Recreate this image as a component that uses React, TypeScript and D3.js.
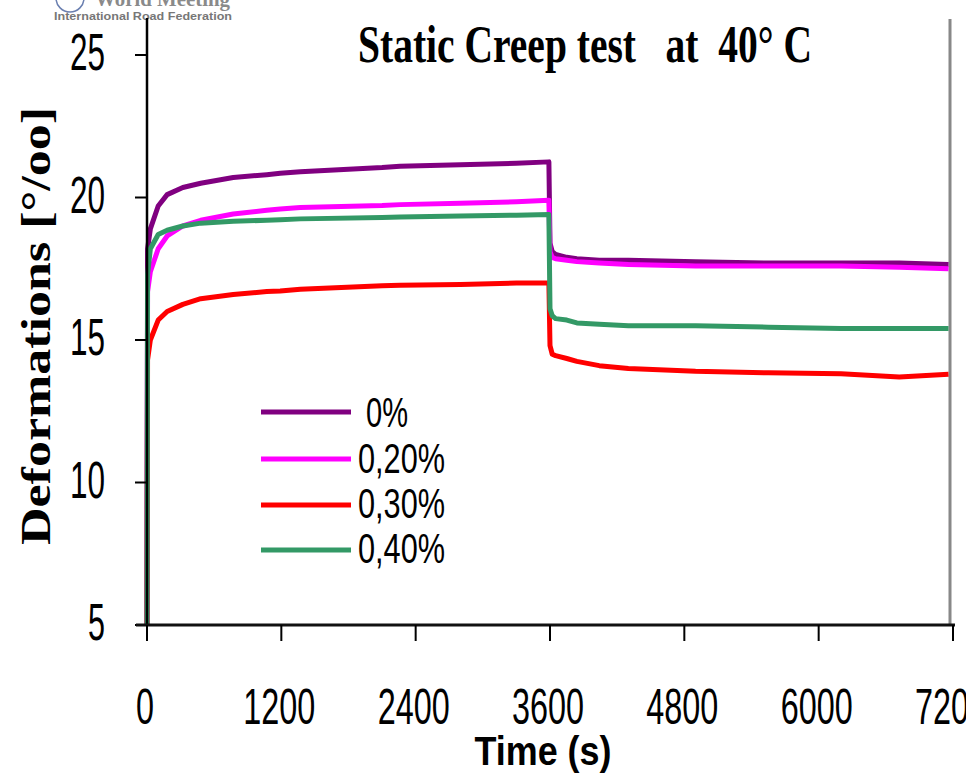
import React from "react";
import * as d3 from "d3";

const times = [0, 5, 30, 100, 180, 320, 480, 770, 1070, 1190, 1370, 2100, 2260, 2800, 3300, 3590, 3600, 3620, 3650, 3750, 3840, 4040, 4300, 4900, 5550, 6200, 6720, 7160];
const purple0 = [5, 18.2, 18.9, 19.7, 20.1, 20.35, 20.5, 20.7, 20.8, 20.85, 20.9, 21.05, 21.1, 21.15, 21.2, 21.25, 18.4, 18.1, 18.0, 17.9, 17.85, 17.8, 17.8, 17.75, 17.7, 17.7, 17.7, 17.65];
const magenta020 = [5, 16.7, 17.4, 18.2, 18.65, 19.0, 19.2, 19.42, 19.55, 19.6, 19.65, 19.72, 19.75, 19.8, 19.85, 19.9, 18.1, 17.9, 17.85, 17.8, 17.75, 17.7, 17.65, 17.6, 17.6, 17.6, 17.55, 17.5];
const red030 = [5, 14.3, 15.0, 15.7, 16.0, 16.25, 16.45, 16.6, 16.7, 16.72, 16.78, 16.9, 16.92, 16.95, 17.0, 17.0, 14.8, 14.5, 14.45, 14.35, 14.25, 14.1, 14.0, 13.9, 13.85, 13.82, 13.7, 13.8];
const green040 = [5, 17.3, 18.2, 18.7, 18.85, 19.0, 19.1, 19.17, 19.2, 19.22, 19.25, 19.3, 19.32, 19.35, 19.38, 19.4, 16.1, 15.85, 15.75, 15.7, 15.6, 15.55, 15.5, 15.5, 15.45, 15.4, 15.4, 15.4];

const seriesNames = ["0%", "0,20%", "0,30%", "0,40%"];
const seriesColors = ["#800080", "#ff00ff", "#ff0000", "#339966"];
const seriesValues = [purple0, magenta020, red030, green040];

const xTicks = [0, 1200, 2400, 3600, 4800, 6000, 7200];
const yTicks = [5, 10, 15, 20, 25];

export default function App() {
  const x = d3.scaleLinear().domain([0, 7200]).range([147, 953]);
  const y = d3.scaleLinear().domain([5, 25]).range([625, 55]);
  const line = d3
    .line<[number, number]>()
    .x((d) => x(d[0]))
    .y((d) => y(d[1]))
    .curve(d3.curveLinear);

  const legendY = [412, 459, 505, 550];
  const legendBase = [427, 473, 518, 563];
  const legendLen = [42, 87, 87, 87];
  const legendX = [366, 358, 358, 358];

  return (
    <svg
      width={966}
      height={773}
      style={{ position: "absolute", left: 0, top: 0, background: "#fff" }}
    >
      <rect x={0} y={0} width={966} height={773} fill="#fff" />
      {/* logo remnant */}
      <circle cx={70} cy={-2} r={14} fill="none" stroke="#6a7fb0" strokeWidth={1.5} />
      <text x={95} y={6} fontFamily="Liberation Serif" fontWeight="bold" fontSize={20} fill="#8a8a8a" textLength={135} lengthAdjust="spacingAndGlyphs">
        World Meeting
      </text>
      <text x={54} y={20} fontFamily="Liberation Sans" fontWeight="bold" fontSize={10} fill="#777" textLength={178} lengthAdjust="spacingAndGlyphs">
        International Road Federation
      </text>

      {/* title */}
      <text
        x={358}
        y={62}
        fontFamily="Liberation Serif"
        fontWeight="bold"
        fontSize={52}
        textLength={454}
        lengthAdjust="spacingAndGlyphs"
        style={{ whiteSpace: "pre" }}
      >
        {"Static Creep test   at  40° C"}
      </text>

      {/* right border */}
      <line x1={950} x2={950} y1={19} y2={625} stroke="#888" strokeWidth={3} />

      {/* series */}
      {seriesValues.map((vals, i) => (
        <path
          key={i}
          d={line(times.map((t, j) => [t, vals[j]] as [number, number])) || ""}
          fill="none"
          stroke={seriesColors[i]}
          strokeWidth={5}
          strokeLinejoin="round"
        />
      ))}

      {/* y axis */}
      <line x1={147} x2={147} y1={18} y2={626} stroke="#000" strokeWidth={2.5} />
      {yTicks.map((v) => (
        <g key={v}>
          <line x1={135} x2={147} y1={y(v)} y2={y(v)} stroke="#000" strokeWidth={2} />
          <text
            x={105}
            y={y(v) + 15}
            textAnchor="end"
            fontFamily="Liberation Sans"
            fontSize={51}
            textLength={v >= 10 ? 35 : 17}
            lengthAdjust="spacingAndGlyphs"
          >
            {v}
          </text>
        </g>
      ))}

      {/* x axis */}
      <line x1={136} x2={955} y1={625} y2={625} stroke="#111" strokeWidth={3} />
      {xTicks.map((t) => (
        <g key={t}>
          <line x1={x(t)} x2={x(t)} y1={625} y2={641} stroke="#000" strokeWidth={2} />
          <text
            x={x(t) - 2}
            y={724}
            textAnchor="middle"
            fontFamily="Liberation Sans"
            fontSize={50}
            textLength={String(t).length * 18}
            lengthAdjust="spacingAndGlyphs"
          >
            {t}
          </text>
        </g>
      ))}

      {/* axis titles */}
      <text
        x={543}
        y={765}
        textAnchor="middle"
        fontFamily="Liberation Sans"
        fontWeight="bold"
        fontSize={41}
        textLength={137}
        lengthAdjust="spacingAndGlyphs"
      >
        Time (s)
      </text>
      <text
        transform="translate(50,326) rotate(-90)"
        textAnchor="middle"
        fontFamily="Liberation Serif"
        fontWeight="bold"
        fontSize={42}
        textLength={438}
        lengthAdjust="spacingAndGlyphs"
      >
        Deformations [°/oo]
      </text>

      {/* legend */}
      {seriesNames.map((name, i) => (
        <g key={name}>
          <line x1={261} x2={351} y1={legendY[i]} y2={legendY[i]} stroke={seriesColors[i]} strokeWidth={5} />
          <text
            x={legendX[i]}
            y={legendBase[i]}
            fontFamily="Liberation Sans"
            fontSize={43}
            textLength={legendLen[i]}
            lengthAdjust="spacingAndGlyphs"
          >
            {name}
          </text>
        </g>
      ))}
    </svg>
  );
}
